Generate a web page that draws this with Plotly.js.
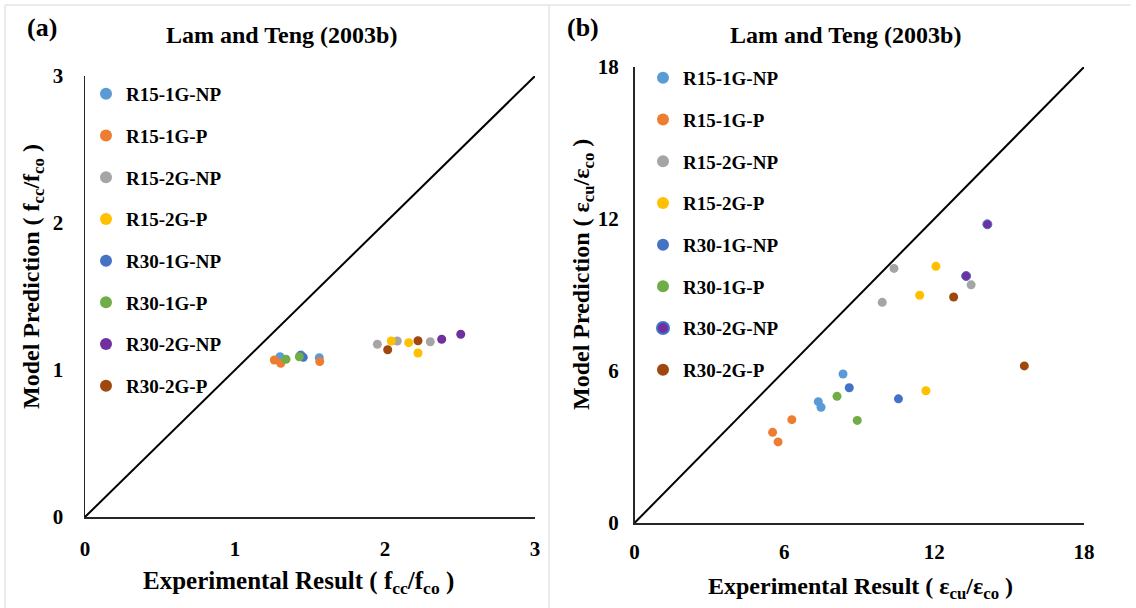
<!DOCTYPE html>
<html>
<head>
<meta charset="utf-8">
<script src="https://cdn.plot.ly/plotly-3.0.1.min.js"></script>
<style>
  html, body { margin: 0; padding: 0; background: #ffffff; }
  #chart { width: 1136px; height: 608px; }
</style>
</head>
<body>
<div id="chart"></div>
<script>
// Specimen series names (shared by both panels)
const seriesNames = ['R15-1G-NP', 'R15-1G-P', 'R15-2G-NP', 'R15-2G-P',
                     'R30-1G-NP', 'R30-1G-P', 'R30-2G-NP', 'R30-2G-P'];
const seriesColors = ['#5B9BD5', '#ED7D31', '#A5A5A5', '#FFC000',
                      '#4472C4', '#70AD47', '#7030A0', '#9E480E'];

// Panel (a): strength ratio fcc/fco, experimental vs predicted
const strengthExp = [
  [1.300, 1.440, 1.562],
  [1.262, 1.305, 1.565],
  [1.949, 2.082, 2.302],
  [2.042, 2.158, 2.220],
  [1.435, 1.455],
  [1.340, 1.429],
  [2.378, 2.505],
  [2.018, 2.220]
];
const strengthPred = [
  [1.090, 1.102, 1.084],
  [1.068, 1.046, 1.057],
  [1.175, 1.197, 1.192],
  [1.197, 1.186, 1.116],
  [1.098, 1.086],
  [1.073, 1.090],
  [1.209, 1.243],
  [1.138, 1.199]
];

// Panel (b): strain ratio εcu/εco, experimental vs predicted
const strainExp = [
  [8.35, 7.36, 7.47],
  [6.30, 5.53, 5.75],
  [10.39, 9.92, 13.48],
  [12.07, 11.42, 11.67],
  [8.60, 10.57],
  [8.11, 8.92],
  [14.13, 13.28],
  [12.78, 15.61]
];
const strainPred = [
  [5.88, 4.79, 4.57],
  [4.08, 3.58, 3.20],
  [10.05, 8.71, 9.40],
  [10.13, 8.99, 5.22],
  [5.34, 4.90],
  [5.00, 4.05],
  [11.79, 9.75],
  [8.92, 6.20]
];

// Equality lines
const lineA = [0, 3];
const lineB = [0, 18];
const ticksA = [0, 1, 2, 3];
const ticksB = [0, 6, 12, 18];

const W = 1136, H = 608;
const px = v => v / W;
const py = v => 1 - v / H;

const serif = 'Liberation Serif, Times New Roman, serif';
const boldFont = (size) => ({ family: serif, size: size, color: '#000000', weight: 'bold' });

const traces = [];

traces.push({
  x: lineA, y: lineA, xaxis: 'x', yaxis: 'y', mode: 'lines',
  line: { color: '#000000', width: 2 }, showlegend: false, hoverinfo: 'skip'
});
seriesNames.forEach((name, i) => {
  traces.push({
    x: strengthExp[i], y: strengthPred[i], xaxis: 'x', yaxis: 'y',
    type: 'scatter', mode: 'markers', name: name,
    legend: 'legend', legendgroup: 'a' + i,
    marker: { color: seriesColors[i], size: 9, line: { width: 0 } }
  });
});

traces.push({
  x: lineB, y: lineB, xaxis: 'x2', yaxis: 'y2', mode: 'lines',
  line: { color: '#000000', width: 2 }, showlegend: false, hoverinfo: 'skip'
});
seriesNames.forEach((name, i) => {
  const outlined = name === 'R30-2G-NP';
  traces.push({
    x: strainExp[i], y: strainPred[i], xaxis: 'x2', yaxis: 'y2',
    type: 'scatter', mode: 'markers', name: name,
    legend: 'legend2', legendgroup: 'b' + i,
    marker: { color: seriesColors[i], size: 9,
              line: outlined ? { color: '#4472C4', width: 1 } : { width: 0 } }
  });
});

const axisCommon = {
  showgrid: false, zeroline: false, showline: true,
  linecolor: '#262626', linewidth: 1.5, ticks: '',
  tickfont: boldFont(21), fixedrange: true
};

const legendCommon = {
  font: boldFont(19), bgcolor: 'rgba(0,0,0,0)', borderwidth: 0,
  tracegroupgap: 14, itemsizing: 'constant', xanchor: 'left', yanchor: 'top'
};

const note = (text, x, y, size, angle) => ({
  text: text, x: px(x), y: py(y), xref: 'paper', yref: 'paper',
  xanchor: 'center', yanchor: 'middle', showarrow: false,
  textangle: angle || 0, font: boldFont(size)
});

const layout = {
  width: W, height: H,
  margin: { l: 0, r: 0, t: 0, b: 0 },
  paper_bgcolor: '#ffffff', plot_bgcolor: 'rgba(0,0,0,0)',
  xaxis: Object.assign({}, axisCommon, {
    domain: [px(85), px(535)], range: [0, 3], tickvals: ticksA, anchor: 'y', ticklabelstandoff: 12
  }),
  yaxis: Object.assign({}, axisCommon, {
    domain: [py(517), py(76)], range: [0, 3], tickvals: ticksA, anchor: 'x', ticklabelstandoff: 16
  }),
  xaxis2: Object.assign({}, axisCommon, {
    domain: [px(634.5), px(1084)], range: [0, 18], tickvals: ticksB, anchor: 'y2', ticklabelstandoff: 9
  }),
  yaxis2: Object.assign({}, axisCommon, {
    domain: [py(523), py(67)], range: [0, 18], tickvals: ticksB, anchor: 'x2', ticklabelstandoff: 10
  }),
  legend: Object.assign({}, legendCommon, { x: px(86), y: py(75) }),
  legend2: Object.assign({}, legendCommon, { x: px(643), y: py(59) }),
  showlegend: true,
  annotations: [
    note('(a)', 42, 28, 26),
    note('Lam and Teng (2003b)', 281, 35, 24),
    note('Experimental Result ( f<sub>cc</sub>/f<sub>co</sub> )', 298, 582, 25),
    note('Model Prediction ( f<sub>cc</sub>/f<sub>co</sub> )', 33, 277, 24, -90),
    note('(b)', 583, 28, 26),
    note('Lam and Teng (2003b)', 845, 35, 24),
    note('Experimental Result ( ε<sub>cu</sub>/ε<sub>co</sub> )', 860, 588, 24),
    note('Model Prediction ( ε<sub>cu</sub>/ε<sub>co</sub> )', 583, 275, 24, -90)
  ],
  shapes: [
    { type: 'line', xref: 'paper', yref: 'paper', x0: px(5), x1: px(1131), y0: py(5), y1: py(5), line: { color: '#d9d9d9', width: 1 } },
    { type: 'line', xref: 'paper', yref: 'paper', x0: px(5), x1: px(5), y0: py(5), y1: 0, line: { color: '#d9d9d9', width: 1 } },
    { type: 'line', xref: 'paper', yref: 'paper', x0: px(549), x1: px(549), y0: py(5), y1: 0, line: { color: '#d9d9d9', width: 1 } }
  ]
};

Plotly.newPlot('chart', traces, layout, { displayModeBar: false, staticPlot: true });
</script>
</body>
</html>
